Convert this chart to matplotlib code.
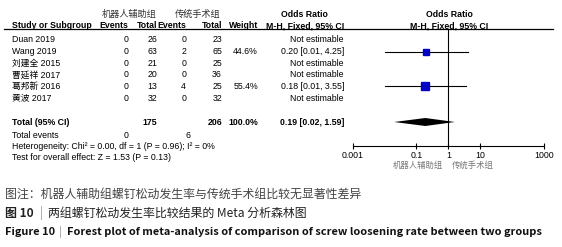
import numpy as np
import matplotlib
matplotlib.use("Agg")
import matplotlib.pyplot as plt

plt.rcParams['font.family'] = ['Liberation Sans', 'Noto Sans CJK SC']

# data
studies = ['Duan 2019', 'Wang 2019', '刘建全 2015', '曹延祥 2017', '葛邦新 2016', '黄波 2017']
robot_events = [0, 0, 0, 0, 0, 0]
robot_total = [26, 63, 21, 20, 13, 32]
conv_events = [0, 2, 0, 0, 4, 0]
conv_total = [23, 65, 25, 36, 25, 32]
weights = [None, 44.6, None, None, 55.4, None]
odds = [None, 0.20, None, None, 0.18, None]
ci_low = [None, 0.01, None, None, 0.01, None]
ci_high = [None, 4.25, None, None, 3.55, None]

pooled_or, pooled_lo, pooled_hi = 0.19, 0.02, 1.59
total_robot, total_conv = 175, 206
events_robot, events_conv = 0, 6
heterogeneity = 'Heterogeneity: Chi² = 0.00, df = 1 (P = 0.96); I² = 0%'
overall = 'Test for overall effect: Z = 1.53 (P = 0.13)'
group_names = ['机器人辅助组', '传统手术组']
ticks = [0.001, 0.1, 1, 10, 1000]
tick_labels = ['0.001', '0.1', '1', '10', '1000']

W, H = 562, 247
fig = plt.figure(figsize=(W / 100, H / 100), dpi=100)
ax = fig.add_axes([0, 0, 1, 1])
ax.set_xlim(0, W)
ax.set_ylim(H, 0)
ax.axis('off')

fs = 6.3
blue = '#0000c4'

# header
ax.text(129, 14.5, group_names[0], ha='center', va='center', fontsize=6.6, color='#333333',
        family=['Noto Sans CJK SC'])
ax.text(198, 14.5, group_names[1], ha='center', va='center', fontsize=6.6, color='#333333',
        family=['Noto Sans CJK SC'])
ax.text(304, 14.5, 'Odds Ratio', ha='center', va='center', fontsize=fs, fontweight='bold')
ax.text(449, 14.5, 'Odds Ratio', ha='center', va='center', fontsize=fs, fontweight='bold')
hy = 25.5
ax.text(12, hy, 'Study or Subgroup', ha='left', va='center', fontsize=fs, fontweight='bold')
ax.text(128, hy, 'Events', ha='right', va='center', fontsize=fs, fontweight='bold')
ax.text(157, hy, 'Total', ha='right', va='center', fontsize=fs, fontweight='bold')
ax.text(186, hy, 'Events', ha='right', va='center', fontsize=fs, fontweight='bold')
ax.text(222, hy, 'Total', ha='right', va='center', fontsize=fs, fontweight='bold')
ax.text(258, hy, 'Weight', ha='right', va='center', fontsize=fs, fontweight='bold')
ax.text(344, hy, 'M-H, Fixed, 95% CI', ha='right', va='center', fontsize=fs, fontweight='bold')
ax.text(449, hy, 'M-H, Fixed, 95% CI', ha='center', va='center', fontsize=fs, fontweight='bold')
ax.plot([4, 553], [29.5, 29.5], color='black', lw=0.9)

# forest axes
x0, x1 = 352.7, 544.0
fx = fig.add_axes([x0 / W, 0, (x1 - x0) / W, 1])
fx.set_xscale('log')
fx.set_xlim(ticks[0], ticks[-1])
fx.set_ylim(H, 0)
fx.patch.set_visible(False)
for s in ['top', 'left', 'right']:
    fx.spines[s].set_visible(False)
axis_y = 145.5
fx.spines['bottom'].set_position(('data', axis_y))
fx.spines['bottom'].set_linewidth(0.8)
fx.set_yticks([])
fx.set_xticks(ticks)
fx.set_xticklabels(tick_labels)
fx.minorticks_off()
fx.tick_params(axis='x', direction='inout', length=4.5, width=0.8, pad=1.5, labelsize=fs)
fx.vlines(1, 29.5, axis_y, color='black', lw=0.8)

row0, step = 40, 11.6
for i, name in enumerate(studies):
    y = row0 + i * step
    ax.text(12, y, name, ha='left', va='center', fontsize=fs)
    ax.text(128, y, str(robot_events[i]), ha='right', va='center', fontsize=fs)
    ax.text(157, y, str(robot_total[i]), ha='right', va='center', fontsize=fs)
    ax.text(186, y, str(conv_events[i]), ha='right', va='center', fontsize=fs)
    ax.text(222, y, str(conv_total[i]), ha='right', va='center', fontsize=fs)
    if odds[i] is None:
        ax.text(344, y, 'Not estimable', ha='right', va='center', fontsize=fs)
    else:
        ax.text(258, y, f'{weights[i]:.1f}%', ha='right', va='center', fontsize=fs)
        ax.text(344, y, f'{odds[i]:.2f} [{ci_low[i]:.2f}, {ci_high[i]:.2f}]',
                ha='right', va='center', fontsize=fs)
        fx.plot([ci_low[i], ci_high[i]], [y, y], color='black', lw=0.8)
        fx.plot(odds[i], y, marker='s', color=blue, linestyle='none',
                markersize=5.0 * np.sqrt(weights[i] / 50.0))

# total row
ty = 122
ax.text(12, ty, 'Total (95% CI)', ha='left', va='center', fontsize=fs, fontweight='bold')
ax.text(157, ty, str(total_robot), ha='right', va='center', fontsize=fs, fontweight='bold')
ax.text(222, ty, str(total_conv), ha='right', va='center', fontsize=fs, fontweight='bold')
ax.text(258, ty, '100.0%', ha='right', va='center', fontsize=fs, fontweight='bold')
ax.text(344, ty, f'{pooled_or:.2f} [{pooled_lo:.2f}, {pooled_hi:.2f}]',
        ha='right', va='center', fontsize=fs, fontweight='bold')
fx.fill([pooled_lo, pooled_or, pooled_hi, pooled_or], [ty, ty - 4, ty, ty + 4],
        color='black', lw=0)

ax.text(12, 135.5, 'Total events', ha='left', va='center', fontsize=fs)
ax.text(128, 135.5, str(events_robot), ha='right', va='center', fontsize=fs)
ax.text(190, 135.5, str(events_conv), ha='right', va='center', fontsize=fs)
ax.text(12, 146, heterogeneity, ha='left', va='center', fontsize=fs)
ax.text(12, 157, overall, ha='left', va='center', fontsize=fs)

# favours labels
ax.text(443.5, 165.5, group_names[0], ha='right', va='center', fontsize=6, color='#777777',
        family=['Noto Sans CJK SC'])
ax.text(451.5, 165.5, group_names[1], ha='left', va='center', fontsize=6, color='#777777',
        family=['Noto Sans CJK SC'])

# captions
cap = ['Noto Sans CJK SC']
ax.text(5, 194, '图注：机器人辅助组螺钉松动发生率与传统手术组比较无显著性差异', ha='left',
        va='center', fontsize=8.6, color='#444444', family=cap)

renderer = fig.canvas.get_renderer()


def chain(x, y, parts, size):
    for s, weight, color, gap in parts:
        t = ax.text(x, y, s, ha='left', va='center', fontsize=size, fontweight=weight,
                    color=color, family=cap)
        bb = t.get_window_extent(renderer=renderer)
        x += bb.width * W / fig.bbox.width + gap


chain(5, 213, [('图 10', 'bold', '#222222', 6),
               ('|', 'normal', '#999999', 5),
               ('两组螺钉松动发生率比较结果的 Meta 分析森林图', 'normal', '#222222', 0)], 8.6)
chain(5, 232, [('Figure 10', 'bold', '#111111', 4),
               ('|', 'normal', '#999999', 5),
               ('Forest plot of meta-analysis of comparison of screw loosening rate between two groups',
                'bold', '#111111', 0)], 7.95)

fig.savefig('out.png', dpi=100)
